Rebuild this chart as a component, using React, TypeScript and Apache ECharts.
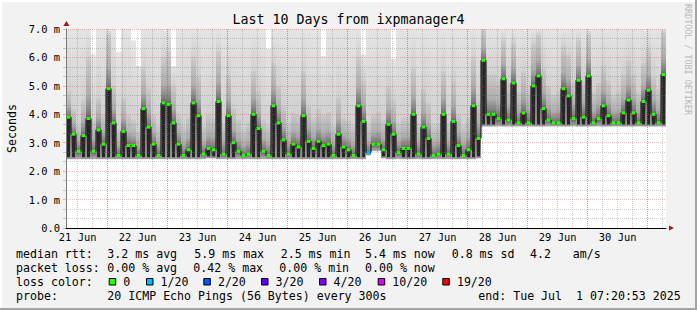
import React, { useEffect, useRef } from "react";
import * as echarts from "echarts";

// ---- data ----
// 120 bins of 2 hours each, from Jun 21 07:20:53 to Jul 1 07:20:53
const median: number[] = [
  3.9, 3.3, 2.7, 3.25, 3.85, 2.7, 3.45, 2.95, 4.9, 3.7,
  2.55, 3.4, 2.9, 2.9, 2.55, 4.2, 3.55, 2.95, 2.55, 4.4,
  4.35, 3.7, 2.95, 2.55, 2.75, 4.4, 3.95, 2.6, 2.8, 2.75,
  4.45, 2.6, 3.95, 3.0, 2.7, 2.55, 2.6, 4.0, 3.5, 2.7,
  2.55, 4.3, 3.7, 3.1, 2.6, 2.95, 2.85, 3.95, 3.05, 2.8,
  3.05, 2.9, 2.95, 2.55, 3.3, 2.85, 2.75, 2.55, 4.3, 3.75,
  2.65, 2.95, 2.95, 2.75, 3.65, 3.3, 2.65, 2.8, 2.8, 4.0,
  2.6, 3.55, 3.15, 2.55, 2.6, 4.0, 2.6, 3.75, 2.9, 2.55,
  2.75, 4.3, 3.15, 5.9, 4.0, 4.0, 3.85, 5.25, 3.8, 5.1,
  3.7, 4.05, 3.7, 5.0, 5.35, 4.2, 3.8, 3.7, 3.7, 4.9,
  4.65, 3.85, 5.2, 3.9, 5.35, 3.7, 3.85, 4.3, 3.95, 3.7,
  3.7, 4.05, 4.5, 4.05, 3.7, 4.45, 4.85, 4.0, 3.7, 5.4,
];
const smokeMin: number[] = [
  2.42, 2.42, 2.42, 2.42, 2.42, 2.42, 2.42, 2.42, 2.42, 2.42,
  2.42, 2.42, 2.42, 2.42, 2.42, 2.42, 2.42, 2.42, 2.42, 2.42,
  2.42, 2.42, 2.42, 2.42, 2.42, 2.42, 2.42, 2.42, 2.45, 2.45,
  2.42, 2.42, 2.42, 2.42, 2.42, 2.42, 2.42, 2.42, 2.42, 2.42,
  2.42, 2.42, 2.42, 2.42, 2.42, 2.42, 2.42, 2.42, 2.42, 2.42,
  2.42, 2.42, 2.42, 2.42, 2.42, 2.42, 2.42, 2.42, 2.42, 2.42,
  2.55, 2.7, 2.7, 2.45, 2.42, 2.42, 2.42, 2.42, 2.42, 2.42,
  2.42, 2.42, 2.42, 2.42, 2.42, 2.42, 2.42, 2.42, 2.42, 2.42,
  2.42, 2.42, 2.45, 3.57, 3.57, 3.57, 3.57, 3.57, 3.57, 3.57,
  3.57, 3.57, 3.57, 3.57, 3.57, 3.57, 3.57, 3.57, 3.57, 3.57,
  3.57, 3.57, 3.57, 3.57, 3.57, 3.57, 3.57, 3.57, 3.57, 3.57,
  3.57, 3.57, 3.57, 3.57, 3.57, 3.57, 3.57, 3.57, 3.57, 3.57,
];
const smokeMid: number[] = [
  4.8, 4.2, 3.6, 4.5, 6.0, 3.8, 4.6, 4.0, 6.8, 5.0,
  3.5, 4.6, 4.0, 3.8, 3.4, 5.6, 4.9, 4.0, 3.6, 6.0,
  6.2, 5.0, 4.0, 3.6, 3.9, 6.0, 5.4, 3.6, 4.0, 3.9,
  6.2, 3.7, 5.4, 4.2, 3.8, 3.5, 3.7, 5.5, 4.8, 3.8,
  3.6, 5.8, 5.0, 4.3, 3.7, 4.1, 4.0, 5.5, 4.3, 3.9,
  4.2, 4.0, 4.1, 3.6, 4.6, 3.9, 3.8, 3.6, 6.0, 5.2,
  3.6, 4.0, 4.1, 3.8, 5.0, 4.5, 3.7, 3.9, 3.9, 5.6,
  3.7, 4.9, 4.4, 3.6, 3.7, 5.5, 3.7, 5.2, 4.0, 3.6,
  3.9, 6.0, 4.5, 7.0, 5.4, 5.4, 5.2, 6.6, 5.1, 6.5,
  4.8, 5.5, 4.9, 6.5, 6.8, 5.6, 5.0, 4.7, 4.8, 6.4,
  6.1, 5.1, 6.6, 5.2, 6.8, 4.8, 5.1, 5.7, 5.2, 4.7,
  4.8, 5.4, 5.9, 5.4, 4.8, 5.8, 6.3, 5.3, 4.9, 6.9,
];
const smokeMax: number[] = [
  7.4, 7.4, 7.4, 7.4, 7.4, 6.1, 7.4, 7.4, 7.4, 7.4,
  6.2, 7.4, 7.4, 6.6, 5.7, 7.4, 7.4, 7.4, 7.4, 7.4,
  7.4, 5.7, 7.4, 7.4, 7.4, 7.4, 7.4, 7.4, 7.4, 7.4,
  7.4, 7.4, 7.4, 7.4, 7.4, 7.4, 7.4, 7.4, 7.4, 7.4,
  6.3, 7.4, 7.4, 7.4, 7.4, 7.4, 7.4, 7.4, 7.4, 7.4,
  7.4, 6.05, 7.4, 7.4, 7.4, 7.4, 7.4, 7.4, 7.4, 6.1,
  7.4, 7.4, 7.4, 7.4, 7.4, 5.95, 7.4, 7.4, 7.4, 7.4,
  7.4, 7.4, 7.4, 7.4, 7.4, 7.4, 7.4, 7.4, 7.4, 7.4,
  7.4, 7.4, 7.4, 7.4, 7.4, 7.4, 7.4, 7.4, 7.4, 7.4,
  7.4, 7.4, 7.4, 7.4, 7.4, 7.4, 7.4, 7.4, 7.4, 7.4,
  7.4, 7.4, 7.4, 7.4, 7.4, 7.4, 7.4, 7.4, 7.4, 7.4,
  7.4, 7.4, 7.4, 7.4, 7.4, 7.4, 7.4, 7.4, 7.4, 7.4,
];
// [bin, pings lost out of 20]
const lossEvents: [number, number][] = [[60, 1]];

const lossLevels: number[] = [0, 1, 2, 3, 4, 10, 19];
const lossLabels: string[] = ["0", "1/20", "2/20", "3/20", "4/20", "10/20", "19/20"];
const lossColors: string[] = ["#26ff00", "#00b8ff", "#0059ff", "#5e00ff", "#7e00ff", "#dd00ff", "#ff0000"];

const rttStats: string[] = ["3.2 ms avg", "5.9 ms max", "2.5 ms min", "5.4 ms now", "0.8 ms sd"];
const ampStats: string[] = ["4.2", "am/s"];
const lossStats: string[] = ["0.00 % avg", "0.42 % max", "0.00 % min", "0.00 % now"];
const titleText = "Last 10 Days from ixpmanager4";
const probeText = "20 ICMP Echo Pings (56 Bytes) every 300s";
const endText = "end: Tue Jul \u00a01 07:20:53 2025";
const yAxisName = "Seconds";
const creditText = "RRDTOOL / TOBI OETIKER";
const MONTHS = ["Jan", "Feb", "Mar", "Apr", "May", "Jun", "Jul", "Aug", "Sep", "Oct", "Nov", "Dec"];

// ---- layout ----
const W = 697;
const H = 310;
const BIN_HOURS = 2;
const SPAN_HOURS = 240;
const START_MS = Date.UTC(2025, 5, 21, 7, 20, 53);
const START_HOUR_OF_DAY = 7 + 20 / 60 + 53 / 3600;
const PLOT_LEFT = 66;
const PLOT_RIGHT = 666;
const PLOT_TOP = 29;
const PLOT_BOTTOM = 228;
const PX_PER_HOUR = (PLOT_RIGHT - PLOT_LEFT) / SPAN_HOURS;
const Y_MAX = 7;
const FONT = "'DejaVu Sans Mono', monospace";
const MAJOR = "rgba(228, 60, 60, 0.34)";
const MINOR = "rgba(120, 120, 120, 0.38)";

const labelMin = 12 - START_HOUR_OF_DAY - 24; // noon Jun 20
const majorMin = -START_HOUR_OF_DAY; // midnight Jun 21
const minorMin = 6 - START_HOUR_OF_DAY; // 06:00 Jun 21

function gridFor(min: number) {
  return {
    left: PLOT_LEFT + min * PX_PER_HOUR,
    right: W - PLOT_RIGHT,
    top: PLOT_TOP,
    bottom: H - PLOT_BOTTOM,
    outerBoundsMode: "none",
  };
}

function lossIndexFor(bin: number): number {
  const ev = lossEvents.find((e) => e[0] === bin);
  const lost = ev ? ev[1] : 0;
  let idx = 0;
  lossLevels.forEach((lv, i) => {
    if (lost >= lv) idx = i;
  });
  return idx;
}

function buildOption(): any {
  const smokeData = median.map((m, i) => [i, smokeMin[i], m, smokeMid[i], smokeMax[i]]);
  const lineData = median.map((m, i) => [i * BIN_HOURS, m]);
  lineData.push([SPAN_HOURS, median[median.length - 1]]);
  const markerData = median.map((m, i) => [i, m, lossIndexFor(i)]);

  const txt = (text: string, x: number, y: number, extra: any = {}) => ({
    type: "text",
    x,
    y,
    silent: true,
    style: {
      text,
      fill: "#000",
      font: `11.6px ${FONT}`,
      align: "left",
      verticalAlign: "middle",
      ...extra,
    },
  });

  const L1 = 253.8;
  const L2 = 267.8;
  const L3 = 281.8;
  const L4 = 296;
  const col1 = [107.3, 194.3, 280.7, 365, 451.7];
  const col2 = [107.3, 193.3, 279.3, 365];
  const ampX = [530, 572.7];
  const swatchX = [108.7, 146, 203.3, 261, 319, 377.7, 442.3];

  const graphic: any[] = [
    { type: "rect", shape: { x: 0, y: 0, width: W, height: 2 }, style: { fill: "#ffffff" }, silent: true },
    { type: "rect", shape: { x: 0, y: 0, width: 2, height: H }, style: { fill: "#ffffff" }, silent: true },
    { type: "rect", shape: { x: W - 2, y: 0, width: 2, height: H }, style: { fill: "#a4a4a4" }, silent: true },
    { type: "rect", shape: { x: 0, y: H - 2, width: W, height: 2 }, style: { fill: "#a4a4a4" }, silent: true },
    txt(titleText, W / 2, 19.4, { align: "center", font: `13.3px ${FONT}` }),
    {
      type: "text",
      x: 12,
      y: (PLOT_TOP + PLOT_BOTTOM) / 2,
      rotation: Math.PI / 2,
      silent: true,
      style: { text: yAxisName, fill: "#000", font: `11.6px ${FONT}`, align: "center", verticalAlign: "middle" },
    },
    {
      type: "text",
      x: 688,
      y: 4,
      rotation: -Math.PI / 2,
      silent: true,
      style: { text: creditText, fill: "#b8b8b8", font: `8.4px ${FONT}`, align: "left", verticalAlign: "middle" },
    },
    // axis arrows
    {
      type: "polygon",
      silent: true,
      shape: { points: [[PLOT_LEFT - 2.6, PLOT_TOP - 3], [PLOT_LEFT + 3.4, PLOT_TOP - 3], [PLOT_LEFT + 0.4, PLOT_TOP - 8]] },
      style: { fill: "#a01818" },
    },
    {
      type: "polygon",
      silent: true,
      shape: { points: [[PLOT_RIGHT + 3, PLOT_BOTTOM - 2.6], [PLOT_RIGHT + 3, PLOT_BOTTOM + 2.6], [PLOT_RIGHT + 8, PLOT_BOTTOM]] },
      style: { fill: "#a01818" },
    },
    txt("median rtt:", 16, L1),
    ...rttStats.map((s, i) => txt(s, col1[i], L1)),
    ...ampStats.map((s, i) => txt(s, ampX[i], L1)),
    txt("packet loss:", 16, L2),
    ...lossStats.map((s, i) => txt(s, col2[i], L2)),
    txt("loss color:", 16, L3),
    ...lossLabels.map((s, i) => txt(s, swatchX[i] + 14.6, L3)),
    ...lossColors.map((c, i) => ({
      type: "rect",
      silent: true,
      shape: { x: swatchX[i] + 0.5, y: 278.5, width: 6.5, height: 6.5 },
      style: { fill: c, stroke: "#000", lineWidth: 1 },
    })),
    txt("probe:", 16, L4),
    txt(probeText, 107.3, L4),
    txt(endText, 478.3, L4),
  ];

  const hiddenY = (gridIndex: number) => ({
    gridIndex,
    type: "value",
    min: 0,
    max: 1,
    show: false,
  });

  return {
    animation: false,
    backgroundColor: "#f2f2f2",
    grid: [
      { ...gridFor(0), show: true, backgroundColor: "#ffffff", borderWidth: 0 },
      gridFor(labelMin),
      gridFor(majorMin),
      gridFor(minorMin),
    ],
    xAxis: [
      {
        gridIndex: 0,
        type: "value",
        min: 0,
        max: SPAN_HOURS,
        z: 8,
        axisLine: { show: true, onZero: false, lineStyle: { color: "#000", width: 1 } },
        axisTick: { show: false },
        axisLabel: { show: false },
        splitLine: { show: false },
      },
      {
        gridIndex: 1,
        type: "value",
        min: labelMin,
        max: SPAN_HOURS,
        interval: 24,
        axisLine: { show: false },
        axisTick: { show: false },
        splitLine: { show: false },
        axisLabel: {
          show: true,
          showMinLabel: false,
          showMaxLabel: false,
          margin: 4,
          color: "#000",
          fontFamily: FONT,
          fontSize: 10.4,
          formatter: (v: number) => {
            if (v < 0 || v > SPAN_HOURS - 1) return "";
            const d = new Date(START_MS + v * 3600e3);
            return `${d.getUTCDate()} ${MONTHS[d.getUTCMonth()]}`;
          },
        },
      },
      {
        gridIndex: 2,
        type: "value",
        min: majorMin,
        max: SPAN_HOURS,
        interval: 24,
        z: 5,
        axisLine: { show: false },
        axisTick: { show: false },
        axisLabel: { show: false },
        splitLine: { show: true, showMinLine: false, showMaxLine: false, lineStyle: { color: MAJOR, type: [1, 1], width: 1 } },
      },
      {
        gridIndex: 3,
        type: "value",
        min: minorMin,
        max: SPAN_HOURS,
        interval: 6,
        z: 4,
        axisLine: { show: false },
        axisTick: { show: false },
        axisLabel: { show: false },
        splitLine: { show: true, showMinLine: false, showMaxLine: false, lineStyle: { color: MINOR, type: [1, 1], width: 1 } },
      },
    ],
    yAxis: [
      {
        gridIndex: 0,
        type: "value",
        min: 0,
        max: Y_MAX,
        interval: 1,
        z: 5,
        axisLine: { show: true, lineStyle: { color: "#7a7a7a", width: 1 } },
        axisTick: { show: true, length: 3, lineStyle: { color: MAJOR } },
        minorTick: { show: true, splitNumber: 3, length: 3, lineStyle: { color: MINOR } },
        axisLabel: {
          margin: 6,
          color: "#000",
          fontFamily: FONT,
          fontSize: 10.4,
          formatter: (v: number) => (v === 0 ? "0.0" : `${v.toFixed(1)} m`),
        },
        splitLine: { show: true, lineStyle: { color: MAJOR, type: [1, 1], width: 1 } },
        minorSplitLine: { show: true, lineStyle: { color: MINOR, type: [1, 1], width: 1 } },
      },
      hiddenY(1),
      hiddenY(2),
      hiddenY(3),
    ],
    series: [
      {
        type: "custom",
        name: "smoke",
        xAxisIndex: 0,
        yAxisIndex: 0,
        z: 1,
        silent: true,
        data: smokeData,
        renderItem: (params: any, api: any) => {
          const i = api.value(0);
          const lo = api.value(1);
          const med = api.value(2);
          const mid = Math.max(api.value(3), med);
          const hi = Math.min(api.value(4), Y_MAX);
          const xL = api.coord([i * BIN_HOURS, 0])[0];
          const xR = api.coord([(i + 1) * BIN_HOURS, 0])[0];
          const w = xR - xL;
          const yLo = api.coord([0, lo])[1];
          const yMed = api.coord([0, med])[1];
          const yMid = api.coord([0, Math.min(mid, hi)])[1];
          const yHi = api.coord([0, hi])[1];
          const children: any[] = [];
          if (yMid - yHi > 0) {
            children.push({
              type: "rect",
              shape: { x: xL, y: yHi, width: w, height: yMid - yHi + 0.5 },
              style: {
                fill: new echarts.graphic.LinearGradient(0, 0, 0, 1, [
                  { offset: 0, color: "#e4e4e4" },
                  { offset: 1, color: "#d0d0d0" },
                ]),
              },
            });
          }
          if (yMed - yMid > 0) {
            children.push({
              type: "rect",
              shape: { x: xL, y: yMid, width: w, height: yMed - yMid + 0.5 },
              style: {
                fill: new echarts.graphic.LinearGradient(0, 0, 0, 1, [
                  { offset: 0, color: "#cacaca" },
                  { offset: 0.6, color: "#adadad" },
                  { offset: 0.9, color: "#7c7c7c" },
                  { offset: 1, color: "#565656" },
                ]),
              },
            });
          }
          const spikeDepth = yLo - yMed;
          if (spikeDepth > 0) {
            if (spikeDepth > 8) {
              // grey flanks with a dark core where the median rises above the floor
              children.push({
                type: "rect",
                shape: { x: xL, y: yMed, width: w, height: spikeDepth },
                style: {
                  fill: new echarts.graphic.LinearGradient(0, 0, 0, 1, [
                    { offset: 0, color: "#5c5c5c" },
                    { offset: 1, color: "#9a9a9a" },
                  ]),
                },
              });
              children.push({
                type: "rect",
                shape: { x: xL + 1, y: yMed, width: w - 2, height: spikeDepth - 2 },
                style: { fill: "#262626" },
              });
            } else {
              children.push({
                type: "rect",
                shape: { x: xL, y: yMed, width: w, height: spikeDepth },
                style: {
                  fill: new echarts.graphic.LinearGradient(0, 0, 0, 1, [
                    { offset: 0, color: "#5a5a5a" },
                    { offset: 1, color: "#b4b4b4" },
                  ]),
                },
              });
            }
          }
          return { type: "group", children };
        },
      },
      {
        type: "line",
        name: "median",
        xAxisIndex: 0,
        yAxisIndex: 0,
        z: 6,
        silent: true,
        step: "end",
        showSymbol: false,
        symbol: "none",
        data: lineData,
        lineStyle: { color: "#000", width: 1 },
      },
      {
        type: "custom",
        name: "loss",
        xAxisIndex: 0,
        yAxisIndex: 0,
        z: 7,
        silent: true,
        data: markerData,
        renderItem: (params: any, api: any) => {
          const i = api.value(0);
          const m = api.value(1);
          const li = api.value(2);
          const xL = api.coord([i * BIN_HOURS, 0])[0];
          const xR = api.coord([(i + 1) * BIN_HOURS, 0])[0];
          const y = api.coord([0, m])[1];
          return {
            type: "rect",
            shape: { x: xL + 0.5, y: y - 1.5, width: xR - xL - 1, height: 3 },
            style: { fill: lossColors[li] },
          };
        },
      },
    ],
    graphic,
  };
}

export default function App() {
  const ref = useRef<HTMLDivElement>(null);
  useEffect(() => {
    if (!ref.current) return;
    const chart = echarts.init(ref.current, undefined, { renderer: "svg", width: W, height: H });
    chart.setOption(buildOption());
    return () => chart.dispose();
  }, []);
  return (
    <div
      ref={ref}
      style={{ position: "fixed", left: 0, top: 0, width: W, height: H }}
    />
  );
}
